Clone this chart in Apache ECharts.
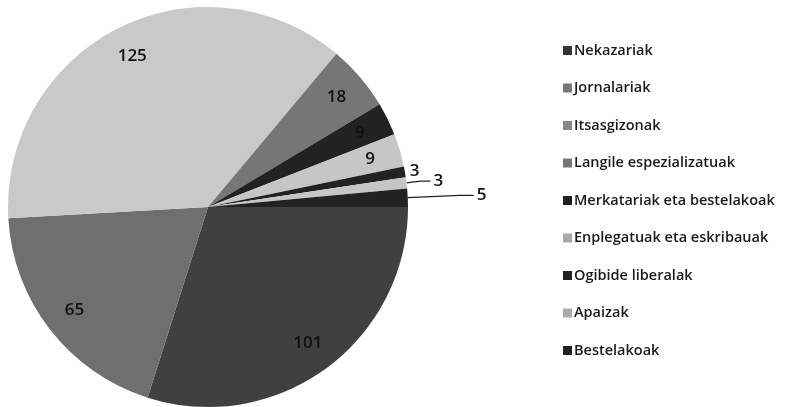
<!DOCTYPE html>
<html>
<head>
<meta charset="utf-8">
<script src="https://cdn.jsdelivr.net/npm/echarts@6/dist/echarts.min.js"></script>
<style>
html,body{margin:0;padding:0;background:#fff;}
#chart{width:796px;height:407px;}
</style>
</head>
<body>
<div id="chart"></div>
<script>
const categories = ["Nekazariak","Jornalariak","Itsasgizonak","Langile espezializatuak","Merkatariak eta bestelakoak","Enplegatuak eta eskribauak","Ogibide liberalak","Apaizak","Bestelakoak"];
const values = [101,65,125,18,9,9,3,3,5];
const sliceColors = ["#404040","#6f6f6f","#c9c9c9","#767676","#222222","#c6c6c6","#222222","#c6c6c6","#222222"];
const legendColors = ["#333333","#777777","#888888","#777777","#222222","#aaaaaa","#222222","#aaaaaa","#222222"];
const outsideLabels = ["Ogibide liberalak","Apaizak","Bestelakoak"];
const lineLen = {"Ogibide liberalak":[2,0],"Apaizak":[14,10],"Bestelakoak":[52,14]};

const FONT = 'Open Sans';
const chart = echarts.init(document.getElementById('chart'));

const mainData = categories.map((c,i)=>({name:c,value:values[i],itemStyle:{color:sliceColors[i]}}));
const labelData = categories.map((c,i)=>{
  const out = outsideLabels.indexOf(c) >= 0;
  const d = {name:c,value:values[i]};
  if (out) {
    d.label = {position:'outside', distanceToLabelLine: 3};
    d.labelLine = {show: lineLen[c][0] > 2, length: lineLen[c][0], length2: lineLen[c][1], lineStyle:{color:'#222',width:1.2}};
  } else {
    d.label = {position:'inside'};
    d.labelLine = {show:false};
  }
  return d;
});

chart.setOption({
  animation:false,
  legend:{
    orient:'vertical',
    left:558, top:38,
    itemWidth:9, itemHeight:9, itemGap:22.5,
    icon:'rect',
    textStyle:{fontFamily:FONT,fontSize:14.5,fontWeight:600,color:'#1a1a1a',padding:[0,0,0,-3]},
    data: categories.map((c,i)=>({name:c,itemStyle:{color:legendColors[i]}}))
  },
  series:[
    {
      type:'pie', center:[208,207], radius:[0,200],
      startAngle:0, clockwise:true,
      label:{show:false}, labelLine:{show:false},
      emphasis:{disabled:true},
      data: mainData
    },
    {
      type:'pie', center:[208,207], radius:[132,200],
      startAngle:0, clockwise:true, silent:true,
      avoidLabelOverlap:false,
      itemStyle:{color:'rgba(0,0,0,0)'},
      emphasis:{disabled:true},
      label:{show:true, formatter:'{c}', fontFamily:FONT, fontSize:17, fontWeight:600, color:'#111'},
      data: labelData
    }
  ]
});
</script>
</body>
</html>
